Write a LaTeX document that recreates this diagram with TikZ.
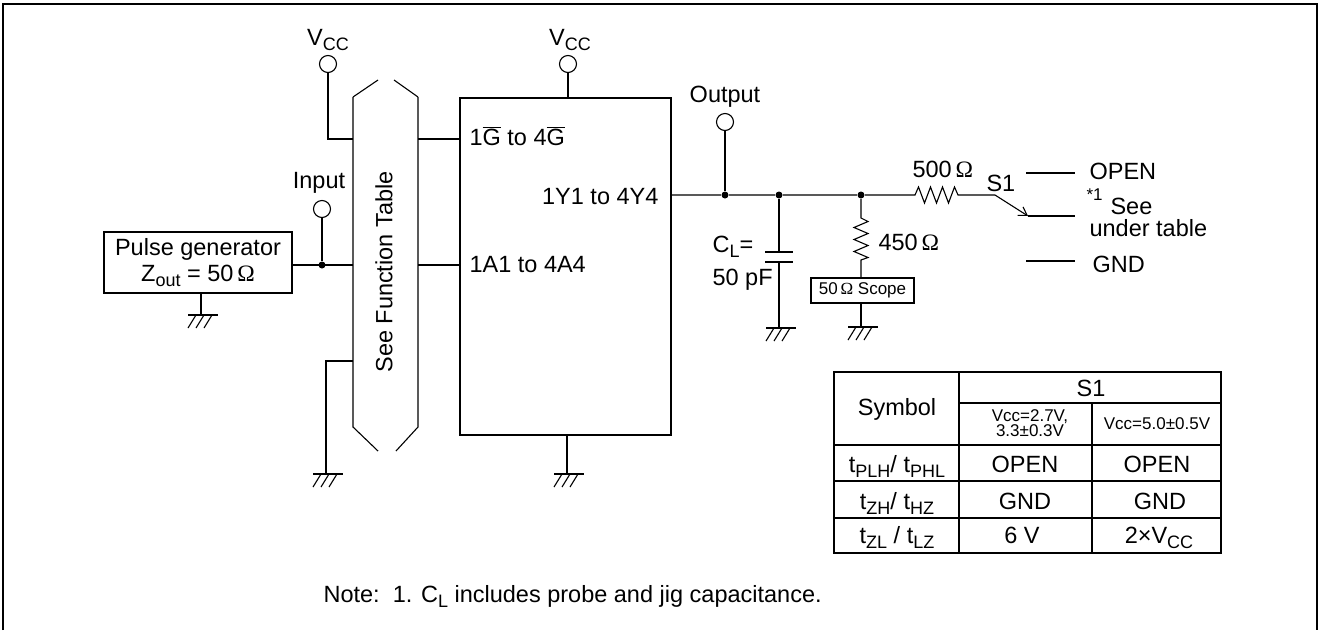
\documentclass[tikz,border=0pt]{standalone}
\usepackage{fontspec}
\setmainfont{Liberation Sans}
\newfontfamily\omegafont{Liberation Serif}
\usetikzlibrary{arrows.meta}
\newcommand{\lsub}[1]{\raisebox{-0.45ex}{\fontsize{18}{18}\selectfont #1}}
\newcommand{\ohm}{\,{\omegafont Ω}}
\tikzset{
  term/.style={draw, circle, minimum size=17pt, inner sep=0pt},
  dot/.style={fill, circle, minimum size=7pt, inner sep=0pt},
  lbl/.style={inner sep=0pt, font=\fontsize{23.5}{26}\selectfont},
  small/.style={inner sep=0pt, font=\fontsize{17}{15}\selectfont},
  gnd/.pic={\draw (-13,0) -- (17,0);
    \foreach \h in {-5,3,11} \draw (\h,0) -- ++(-8,13);}
}
\begin{document}
\begin{tikzpicture}[x=1pt,y=-1pt,line width=1.1pt]
  \useasboundingbox (0,0) rectangle (1326,630);
  % frame
  \draw[line width=1.6pt] (3,630) -- (3,4) -- (1317,4) -- (1317,630);
  % bus
  \draw (353,97) -- (378,80) (394,80) -- (418,97);
  \draw (378,451) -- (353,427) -- (353,97);
  \draw (396,451) -- (418,427) -- (418,97);
  \node[lbl, rotate=90] (ftab) at (384,272) {See Function Table};
  \coordinate (busGl) at (353,139);
  \coordinate (busGr) at (418,139);
  \coordinate (busAl) at (353,265);
  \coordinate (busAr) at (418,265);
  \coordinate (busZl) at (353,361);
  % device
  \node[draw, minimum width=211pt, minimum height=337pt, inner sep=0pt] (ic) at (565.5,266.5) {};
  \node[lbl, anchor=base west] (gin) at (469,145) {1$\overline{\hbox{G}}$ to 4$\overline{\hbox{G}}$};
  \node[lbl, anchor=base east] (yout) at (659,204) {1Y1 to 4Y4};
  \node[lbl, anchor=base west] (ain) at (469,272) {1A1 to 4A4};
  \draw (busGr) -- (busGr -| ic.west);
  \draw (busAr) -- (busAr -| ic.west);
  % supplies
  \node[term] (vccl) at (328,64) {};
  \node[lbl, anchor=base] (vccltxt) at (328,45) {V\lsub{CC}};
  \draw (vccl) |- (busGl);
  \node[term] (vccm) at (568,64) {};
  \node[lbl, anchor=base] (vccmtxt) at (570,45) {V\lsub{CC}};
  \draw (vccm) -- (vccm |- ic.north);
  % input side
  \node[draw, minimum width=188pt, minimum height=61pt, inner sep=0pt, align=center, lbl]
    (pulse) at (198,262.5) {Pulse generator\\Z\lsub{out} = 50\ohm};
  \node[term] (inp) at (322,209) {};
  \node[lbl, anchor=base] (inptxt) at (319,188) {Input};
  \node[dot] (jin) at (322,265) {};
  \draw (inp) -- (jin);
  \draw (pulse.east |- jin) -- (busAl);
  \coordinate (gpulse) at (201,315);
  \draw (gpulse |- pulse.south) -- (gpulse);
  \pic at (gpulse) {gnd};
  \coordinate (gbus) at (326,474);
  \draw (busZl) -| (gbus);
  \pic at (gbus) {gnd};
  \coordinate (gic) at (567,474);
  \draw (gic |- ic.south) -- (gic);
  \pic at (gic) {gnd};
  % output side
  \node[term] (outp) at (725,122) {};
  \node[lbl, anchor=base] (outtxt) at (725,102) {Output};
  \node[dot] (jout) at (725,195) {};
  \node[dot] (jcap) at (779,195) {};
  \node[dot] (jres) at (861,195) {};
  \coordinate (sw) at (995,195);
  \coordinate (swtip) at (1028,216);
  \draw (outp) -- (jout);
  \draw (ic.east |- jout) -- (jout) -- (jcap) -- (jres) -- (915,195)
    -- ++(3.5,-8) -- ++(6,16) -- ++(6,-16) -- ++(6,16) -- ++(6,-16) -- ++(6,16) -- ++(6,-16) -- ++(3.5,8)
    -- (sw);
  \node[lbl, anchor=base west] (r500) at (912,177) {500\ohm};
  % load capacitor
  \coordinate (gcap) at (779,328);
  \draw (jcap) -- (779,252);
  \draw (765,252) -- (793,252) (765,262) -- (793,262);
  \draw (779,262) -- (gcap);
  \pic at (gcap) {gnd};
  \node[lbl, anchor=base west] (cl) at (712,252) {C\lsub{L}=};
  \node[lbl, anchor=base west] (cval) at (712,285) {50 pF};
  % scope resistor
  \node[draw, minimum width=103pt, minimum height=25pt, inner sep=0pt, small,
    font=\fontsize{17}{17}\selectfont] (scope) at (862.5,290.5) {50\ohm\ Scope};
  \draw (jres) -- (861,218) -- ++(7,3.5) -- ++(-14,6) -- ++(14,6) -- ++(-14,6)
    -- ++(14,6) -- ++(-14,6) -- ++(14,6) -- ++(-7,2.5) -- (861,278);
  \node[lbl, anchor=base west] (r450) at (878,250) {450\ohm};
  \coordinate (gsc) at (861,327);
  \draw (scope.south -| gsc) -- (gsc);
  \pic at (gsc) {gnd};
  % switch S1
  \draw[-{Straight Barb[length=8pt,width=10pt]}] (sw) -- (swtip);
  \coordinate (kopen) at (1026,173);
  \coordinate (kgnd) at (1026,261);
  \draw (kopen) -- ++(49,0);
  \draw (swtip) -- (1075,216);
  \draw (kgnd) -- ++(49,0);
  \node[lbl, anchor=base west] (s1) at (986,191) {S1};
  \node[lbl, anchor=base west] (open) at (1089,179) {OPEN};
  \node[small, anchor=base west] (star) at (1086,200) {*1};
  \node[lbl, anchor=base west] (see) at (1110,214) {See};
  \node[lbl, anchor=base west] (under) at (1089,236) {under table};
  \node[lbl, anchor=base west] (gnd) at (1092,272) {GND};
  % table
  \draw (834,372) rectangle (1221,553);
  \draw (959,372) -- (959,553);
  \draw (1092,403) -- (1092,553);
  \draw (959,403) -- (1221,403);
  \foreach \y in {445,481,518} \draw (834,\y) -- (1221,\y);
  \node[lbl] (hsym) at (897,409) {Symbol};
  \node[lbl] (hs1) at (1091,388) {S1};
  \node[small, align=center] (hlow) at (1030,423) {Vcc=2.7V,\\3.3±0.3V};
  \node[small] (hhigh) at (1157,424) {Vcc=5.0±0.5V};
  \node[lbl, anchor=base] (tp) at (897,472) {t\lsub{PLH}/ t\lsub{PHL}};
  \node[lbl, anchor=base] (tpa) at (1025,472) {OPEN};
  \node[lbl, anchor=base] (tpb) at (1157,472) {OPEN};
  \node[lbl, anchor=base] (tz) at (897,509) {t\lsub{ZH}/ t\lsub{HZ}};
  \node[lbl, anchor=base] (tza) at (1025,509) {GND};
  \node[lbl, anchor=base] (tzb) at (1160,509) {GND};
  \node[lbl, anchor=base] (tl) at (897,543) {t\lsub{ZL} / t\lsub{LZ}};
  \node[lbl, anchor=base] (tla) at (1022,543) {6 V};
  \node[lbl, anchor=base] (tlb) at (1159,543) {2×V\lsub{CC}};
  % note
  \node[lbl, anchor=base west] (note) at (323,602) {Note:\ \ 1. C\lsub{L} includes probe and jig capacitance.};
\end{tikzpicture}
\end{document}
